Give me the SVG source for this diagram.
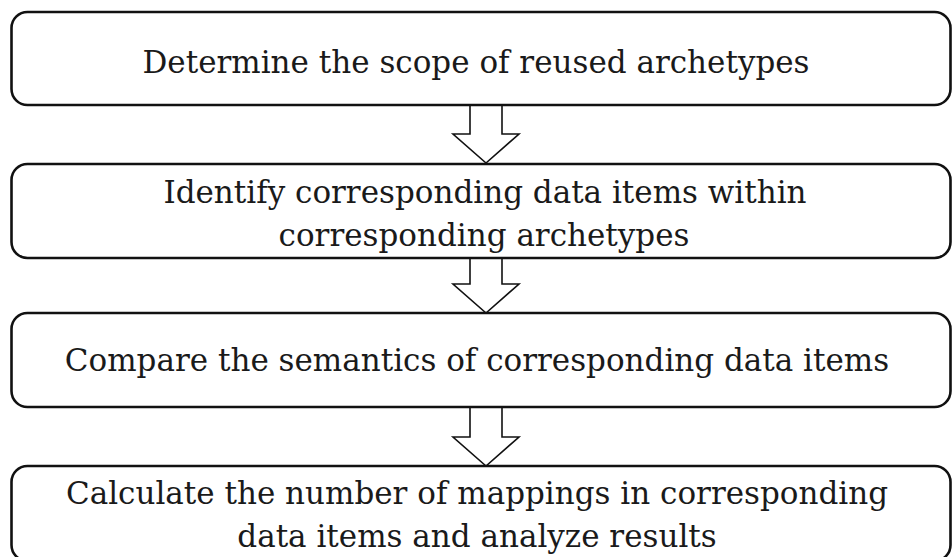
<svg xmlns="http://www.w3.org/2000/svg" width="952" height="557" viewBox="0 0 952 557">
  <style>
    .box { fill: #ffffff; stroke: #111111; stroke-width: 2.6; }
    .arrow { fill: #ffffff; stroke: #111111; stroke-width: 1.6; stroke-linejoin: miter; }
    .label { font-family: "DejaVu Serif", "Liberation Serif", serif; font-size: 31px; fill: #1a1a1a; text-anchor: middle; }
  </style>
  <rect width="952" height="557" fill="#ffffff"/>

  <!-- hollow block arrows between steps -->
  <g id="connectors">
    <polygon class="arrow" points="470,105 502,105 502,134 519,134 486,163 453,134 470,134"/>
    <polygon class="arrow" points="470,258 502,258 502,284 519,284 486,313 453,284 470,284"/>
    <polygon class="arrow" points="470,407 502,407 502,437 519,437 486,466 453,437 470,437"/>
  </g>

  <g id="step1">
    <rect class="box" x="11.5" y="12" width="939" height="93" rx="16"/>
    <text class="label" x="476" y="73">Determine the scope of reused archetypes</text>
  </g>

  <g id="step2">
    <rect class="box" x="11.5" y="164" width="939" height="94" rx="16"/>
    <text class="label" x="485" y="203">Identify corresponding data items within</text>
    <text class="label" x="484" y="246">corresponding archetypes</text>
  </g>

  <g id="step3">
    <rect class="box" x="11.5" y="313" width="939" height="94" rx="16"/>
    <text class="label" x="477" y="371">Compare the semantics of corresponding data items</text>
  </g>

  <g id="step4">
    <rect class="box" x="11.5" y="466" width="939" height="95" rx="16"/>
    <text class="label" x="477" y="504">Calculate the number of mappings in corresponding</text>
    <text class="label" x="477" y="547">data items and analyze results</text>
  </g>
</svg>
